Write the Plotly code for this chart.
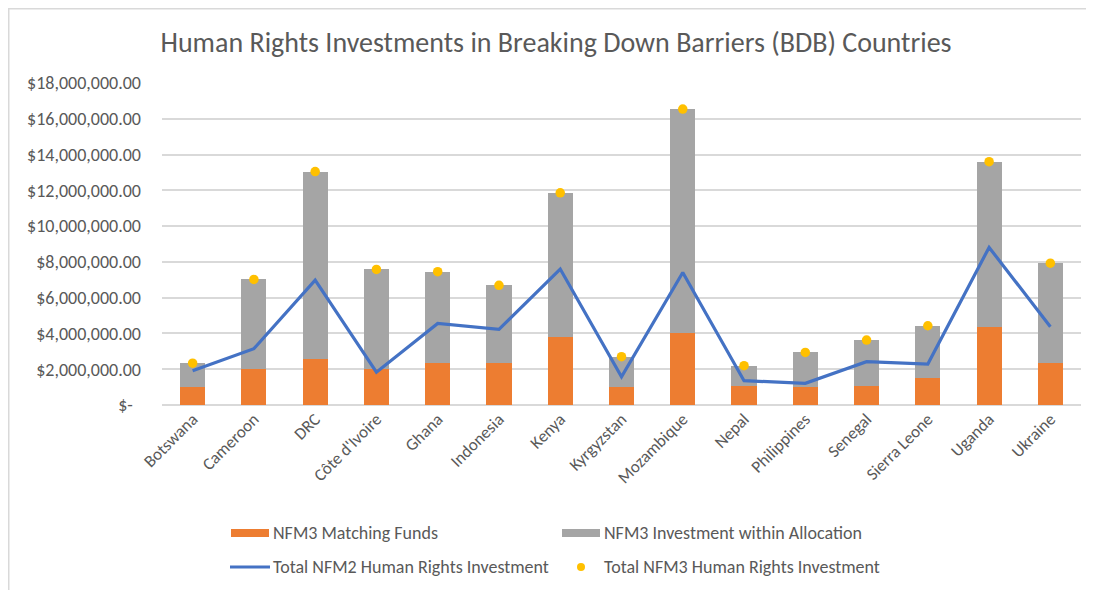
import plotly.graph_objects as go

countries = ["Botswana", "Cameroon", "DRC", "Côte d'Ivoire", "Ghana", "Indonesia", "Kenya",
             "Kyrgyzstan", "Mozambique", "Nepal", "Philippines", "Senegal", "Sierra Leone",
             "Uganda", "Ukraine"]
matching_funds = [1000000, 2000000, 2570000, 2000000, 2360000, 2330000, 3780000,
                  1000000, 4000000, 1060000, 1000000, 1080000, 1490000, 4380000, 2360000]
total_nfm3 = [2340000, 7020000, 13050000, 7580000, 7450000, 6690000, 11860000,
              2700000, 16540000, 2200000, 2940000, 3630000, 4430000, 13600000, 7930000]
within_allocation = [t - m for t, m in zip(total_nfm3, matching_funds)]
total_nfm2 = [1920000, 3150000, 6980000, 1830000, 4560000, 4230000, 7600000,
              1580000, 7410000, 1360000, 1210000, 2420000, 2290000, 8810000, 4380000]

y_tickvals = [0, 2e6, 4e6, 6e6, 8e6, 10e6, 12e6, 14e6, 16e6, 18e6]
y_ticktext = ["$-\u00a0\u00a0", "$2,000,000.00", "$4,000,000.00", "$6,000,000.00",
              "$8,000,000.00", "$10,000,000.00", "$12,000,000.00", "$14,000,000.00",
              "$16,000,000.00", "$18,000,000.00"]

title = "Human Rights Investments in Breaking Down Barriers (BDB) Countries"
legend_names = ["NFM3 Matching Funds", "NFM3 Investment within Allocation",
                "Total NFM2 Human Rights Investment", "Total NFM3 Human Rights Investment"]

ORANGE, GRAY, BLUE, YELLOW = "#ED7D31", "#A5A5A5", "#4472C4", "#FFC000"
TXT = "#595959"
GRID = "#D9D9D9"
FONT = "Calibri, Carlito, Lato, sans-serif"

OFF = 8  # page body margin in the browser
W, H = 1094 - OFF, 590 - OFF
# plot area in screen pixels
L, R, T, B = 162, 1081, 83, 405

fig = go.Figure()
fig.add_trace(go.Bar(x=countries, y=matching_funds, name=legend_names[0], marker_color=ORANGE,
                     marker_line_width=0))
fig.add_trace(go.Bar(x=countries, y=within_allocation, name=legend_names[1], marker_color=GRAY,
                     marker_line_width=0))
fig.add_trace(go.Scatter(x=countries, y=total_nfm2, name=legend_names[2], mode="lines",
                         line=dict(color=BLUE, width=3.2)))
fig.add_trace(go.Scatter(x=countries, y=total_nfm3, name=legend_names[3], mode="markers",
                         marker=dict(color=YELLOW, size=9.5)))


def px(x):
    return (x - L) / (R - L)


def py(y):
    return (B - y) / (B - T)


shapes = [
    # chart border
    dict(type="line", xref="paper", yref="paper", x0=px(8), x1=px(1100), y0=py(8.5), y1=py(8.5),
         line=dict(color=GRID, width=2)),
    dict(type="line", xref="paper", yref="paper", x0=px(8.5), x1=px(8.5), y0=py(8), y1=py(600),
         line=dict(color=GRID, width=2)),
    # legend swatches
    dict(type="rect", xref="paper", yref="paper", x0=px(231), x1=px(269), y0=py(537), y1=py(529),
         fillcolor=ORANGE, line_width=0),
    dict(type="rect", xref="paper", yref="paper", x0=px(562), x1=px(600), y0=py(537), y1=py(529),
         fillcolor=GRAY, line_width=0),
    dict(type="line", xref="paper", yref="paper", x0=px(230), x1=px(270), y0=py(567), y1=py(567),
         line=dict(color=BLUE, width=3.2)),
    dict(type="circle", xref="paper", yref="paper", x0=px(577), x1=px(585), y0=py(571), y1=py(563),
         fillcolor=YELLOW, line_width=0),
]

ann = []
for x0, y0, t in [(273, 533, legend_names[0]), (604, 533, legend_names[1]),
                  (273, 567, legend_names[2]), (604, 567, legend_names[3])]:
    ann.append(dict(xref="paper", yref="paper", x=px(x0), y=py(y0), text=t, showarrow=False,
                    xanchor="left", yanchor="middle", xshift=-2,
                    font=dict(family=FONT, size=18, color=TXT)))

fig.update_layout(
    width=W, height=H,
    margin=dict(l=L - OFF, r=W - (R - OFF), t=T - OFF, b=H - (B - OFF), autoexpand=False),
    paper_bgcolor="white", plot_bgcolor="white",
    barmode="stack", bargap=0.59,
    showlegend=False,
    title=dict(text=title, x=(556 - OFF) / W, xanchor="center", xref="container",
               y=1 - (42 - OFF) / H, yref="container", yanchor="middle",
               font=dict(family=FONT, size=28, color=TXT)),
    font=dict(family=FONT, color=TXT),
    shapes=shapes,
    annotations=ann,
)
fig.update_xaxes(range=[-0.5, len(countries) - 0.5],
                 tickangle=-45, tickfont=dict(family=FONT, size=17, color=TXT),
                 showgrid=False, showline=False, ticks="")
fig.update_yaxes(range=[0, 18e6], tickvals=y_tickvals, ticktext=y_ticktext,
                 tickfont=dict(family=FONT, size=18, color=TXT),
                 showgrid=True, gridcolor=GRID, gridwidth=1.5,
                 zeroline=True, zerolinecolor=GRID, zerolinewidth=1.5,
                 showline=False, ticks="", ticklabelstandoff=20)

fig.write_html("out.html")
